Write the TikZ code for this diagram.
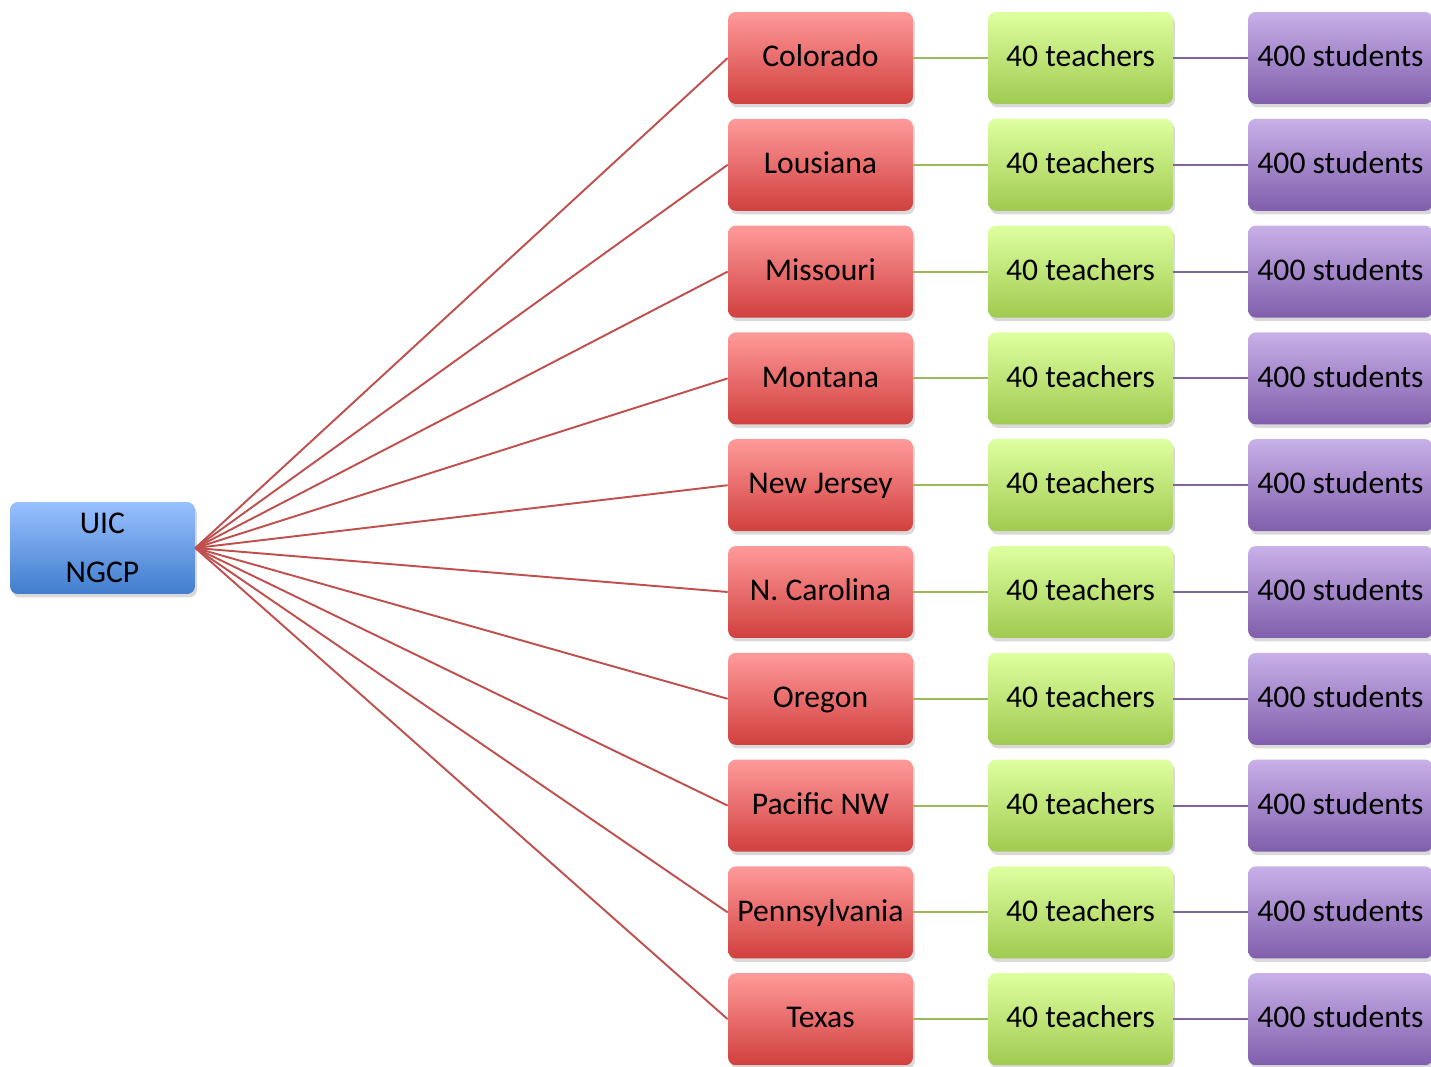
\documentclass[tikz,border=0pt]{standalone}
\usepackage{fontspec}
\setmainfont{Carlito}
\usetikzlibrary{positioning,shadows}
\definecolor{linkred}{RGB}{192,80,77}
\definecolor{linkgreen}{RGB}{155,187,89}
\definecolor{linkpurple}{RGB}{128,100,162}
\tikzset{
  box/.style={rectangle, rounded corners=4.5pt, minimum width=3.7cm, minimum height=1.84cm, inner sep=0pt, align=center,
    drop shadow={shadow xshift=0.04cm, shadow yshift=-0.07cm, opacity=0.3}},
  rowbox/.style={box, text height=13.5pt, text depth=3.6pt},
  rootbox/.style={box, top color={rgb,255:red,153;green,192;blue,255}, bottom color={rgb,255:red,64;green,125;blue,205}},
  statebox/.style={rowbox, top color={rgb,255:red,255;green,154;blue,154}, bottom color={rgb,255:red,208;green,64;blue,62}},
  teacherbox/.style={rowbox, top color={rgb,255:red,222;green,255;blue,160}, bottom color={rgb,255:red,160;green,202;blue,80}},
  studentbox/.style={rowbox, top color={rgb,255:red,200;green,176;blue,232}, bottom color={rgb,255:red,128;green,94;blue,172}},
  statelink/.style={draw=linkred, line width=1.1pt},
  teacherlink/.style={draw=linkgreen, line width=1.1pt},
  studentlink/.style={draw=linkpurple, line width=1.1pt}
}
\begin{document}
\begin{tikzpicture}[x=0.02cm, y=-0.02cm, font=\fontsize{18}{28}\selectfont]
    \useasboundingbox (0,0) rectangle (1431,1067);
    \node[rootbox] (uic) at (102.5,548) {UIC\\NGCP};
    % one row per state
    \foreach \i/\name in {0/Colorado,1/Lousiana,2/Missouri,3/Montana,4/New Jersey,5/N. Carolina,6/Oregon,7/Pacific NW,8/Pennsylvania,9/Texas}{
        \node[statebox] (s\i) at (820.5,58+106.8*\i) {\name};
        \node[teacherbox] (t\i) at (1080.5,58+106.8*\i) {40 teachers};
        \node[studentbox] (p\i) at (1340.5,58+106.8*\i) {400 students};
        \draw[statelink] (uic.east) -- (s\i.west);
        \draw[teacherlink] (s\i) -- (t\i);
        \draw[studentlink] (t\i) -- (p\i);
    }
\end{tikzpicture}
\end{document}
